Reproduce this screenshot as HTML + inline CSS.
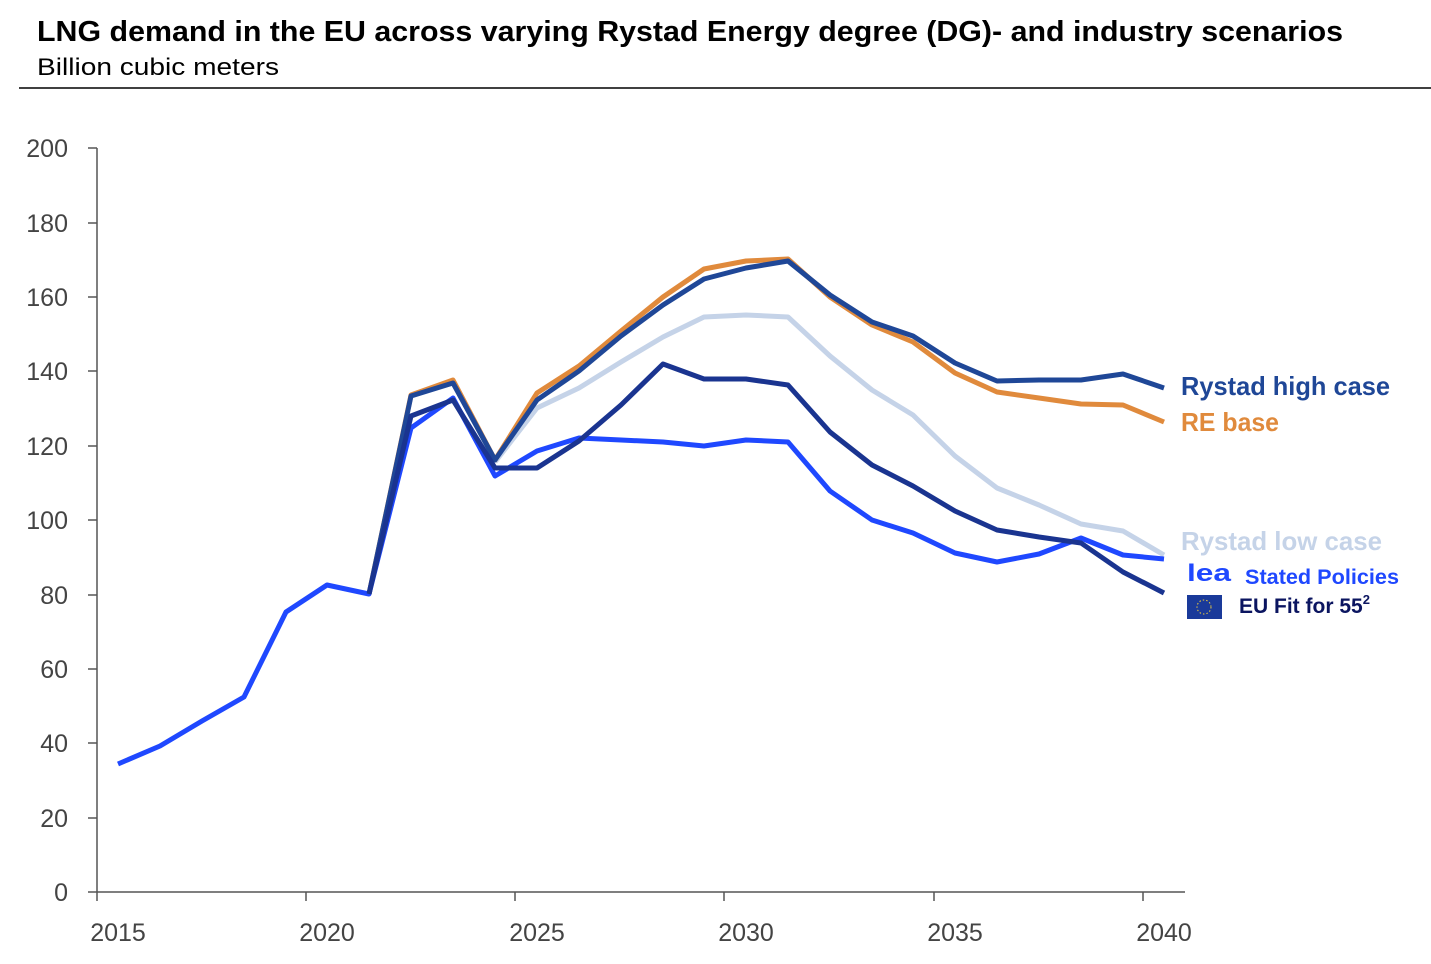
<!DOCTYPE html><html><head><meta charset="utf-8"><style>
body{margin:0;background:#fff;font-family:"Liberation Sans",sans-serif}
</style></head><body>
<svg width="1431" height="959" xmlns="http://www.w3.org/2000/svg" font-family="Liberation Sans, sans-serif">
<text x="37" y="41" font-size="29" font-weight="bold" fill="#000" textLength="1306" lengthAdjust="spacingAndGlyphs">LNG demand in the EU across varying Rystad Energy degree (DG)- and industry scenarios</text>
<text x="37" y="75" font-size="24" fill="#000" textLength="242" lengthAdjust="spacingAndGlyphs">Billion cubic meters</text>
<line x1="19" y1="88" x2="1431" y2="88" stroke="#000" stroke-width="1.5"/>
<g stroke="#555" stroke-width="1.5">
<line x1="97" y1="148" x2="97" y2="892"/><line x1="97" y1="892" x2="1185" y2="892"/>
<line x1="88" y1="892" x2="97" y2="892"/><line x1="88" y1="818" x2="97" y2="818"/><line x1="88" y1="743" x2="97" y2="743"/><line x1="88" y1="669" x2="97" y2="669"/><line x1="88" y1="595" x2="97" y2="595"/><line x1="88" y1="520" x2="97" y2="520"/><line x1="88" y1="446" x2="97" y2="446"/><line x1="88" y1="371" x2="97" y2="371"/><line x1="88" y1="297" x2="97" y2="297"/><line x1="88" y1="223" x2="97" y2="223"/><line x1="88" y1="148" x2="97" y2="148"/>
<line x1="97" y1="892" x2="97" y2="901"/><line x1="306" y1="892" x2="306" y2="901"/><line x1="515" y1="892" x2="515" y2="901"/><line x1="724" y1="892" x2="724" y2="901"/><line x1="934" y1="892" x2="934" y2="901"/><line x1="1143" y1="892" x2="1143" y2="901"/>
</g>
<g font-size="25" fill="#444" text-anchor="end">
<text x="68" y="901">0</text><text x="68" y="827">20</text><text x="68" y="752">40</text><text x="68" y="678">60</text><text x="68" y="604">80</text><text x="68" y="529">100</text><text x="68" y="455">120</text><text x="68" y="380">140</text><text x="68" y="306">160</text><text x="68" y="232">180</text><text x="68" y="157">200</text>
</g>
<g font-size="25" fill="#444" text-anchor="middle">
<text x="118" y="941">2015</text><text x="327" y="941">2020</text><text x="537" y="941">2025</text><text x="746" y="941">2030</text><text x="955" y="941">2035</text><text x="1164" y="941">2040</text>
</g>
<g fill="none" stroke-width="5" stroke-linejoin="round">
<polyline stroke="#c5d3e8" points="495,462 537,408 579,388 621,362 663,337 704,317 746,315 788,317 830,356 872,390 913,415 955,456 997,488 1039,505 1081,524 1123,531 1164,555"/>
<polyline stroke="#e08a3c" points="369,594 411,395 453,380 495,460 537,393 579,366 621,331 663,297 704,269 746,261 788,259 830,297 872,325 913,342 955,373 997,392 1039,398 1081,404 1123,405 1164,422"/>
<polyline stroke="#1f4797" points="369,594 411,396 453,383 495,460 537,400 579,371 621,336 663,305 704,279 746,268 788,261 830,295 872,322 913,336 955,363 997,381 1039,380 1081,380 1123,374 1164,388"/>
<polyline stroke="#1f48ff" points="118,764 160,746 202,721 244,697 286,612 327,585 369,594 411,428 453,398 495,476 537,451 579,438 621,440 663,442 704,446 746,440 788,442 830,491 872,520 913,533 955,553 997,562 1039,554 1081,538 1123,555 1164,559"/>
<polyline stroke="#1a3490" points="369,594 411,416 453,400 495,468 537,468 579,441 621,405 663,364 704,379 746,379 788,385 830,432 872,465 913,486 955,511 997,530 1039,537 1081,543 1123,572 1164,593"/>
</g>
<g font-weight="bold">
<text x="1181" y="395" font-size="26" fill="#1f4797" textLength="209" lengthAdjust="spacingAndGlyphs">Rystad high case</text>
<text x="1181" y="431" font-size="26" fill="#e08a3c" textLength="98" lengthAdjust="spacingAndGlyphs">RE base</text>
<text x="1181" y="550" font-size="26" fill="#c5d3e8" textLength="201" lengthAdjust="spacingAndGlyphs">Rystad low case</text>
<text x="1187" y="581" font-size="24" fill="#1f48ff" textLength="44" lengthAdjust="spacingAndGlyphs">lea</text>
<text x="1245" y="584" font-size="21" fill="#1f48ff" textLength="154" lengthAdjust="spacingAndGlyphs">Stated Policies</text>
<rect x="1187" y="595" width="35" height="24" fill="#1a3a9a"/>
<circle cx="1204" cy="607" r="7" fill="none" stroke="#e8c840" stroke-width="1" stroke-dasharray="1.5 2"/>
<text x="1239" y="613" font-size="21" fill="#0b1560">EU Fit for 55<tspan font-size="13" dy="-9">2</tspan></text>
</g>
</svg>
</body></html>
